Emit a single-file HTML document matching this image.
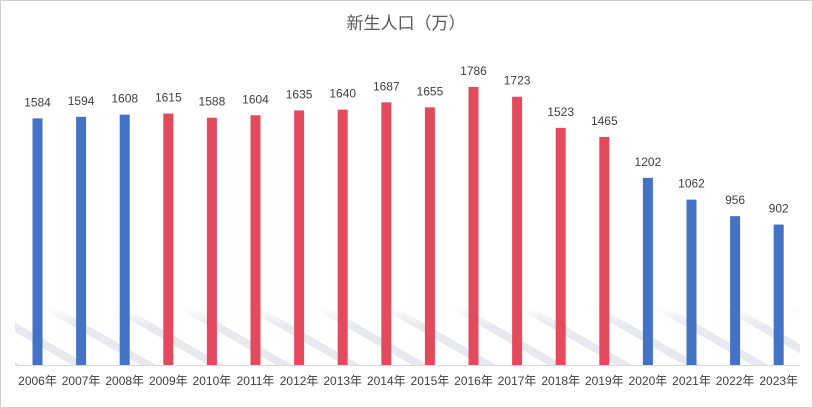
<!DOCTYPE html>
<html><head><meta charset="utf-8"><style>
html,body{margin:0;padding:0;background:#fff;}
svg{display:block;font-family:"Liberation Sans","Noto Sans CJK SC",sans-serif;}
</style></head><body>
<svg width="813" height="408" viewBox="0 0 813 408" xmlns="http://www.w3.org/2000/svg">
<defs>
<pattern id="h" width="34" height="34" patternUnits="userSpaceOnUse" patternTransform="rotate(30)">
<rect x="0" y="0" width="34" height="8" fill="#e8e9ef"/>
</pattern>
<linearGradient id="fade" x1="0" y1="0" x2="0" y2="1">
<stop offset="0" stop-color="#fff" stop-opacity="1"/>
<stop offset="0.35" stop-color="#fff" stop-opacity="0"/>
</linearGradient>
</defs>
<rect x="0.5" y="0.5" width="812" height="407" fill="#fff" stroke="#d0d0d0"/>
<rect x="15" y="308" width="785" height="57" fill="url(#h)"/>
<rect x="15" y="306" width="785" height="59" fill="url(#fade)"/>
<line x1="15" y1="365.5" x2="800" y2="365.5" stroke="#d9d9d9"/>
<text x="406" y="29" font-size="17" text-anchor="middle" fill="#595959">新生人口（万）</text>
<g id="bars" font-size="12" fill="#404040" text-anchor="middle"></g>
</svg>
<script>
var d=[1584,1594,1608,1615,1588,1604,1635,1640,1687,1655,1786,1723,1523,1465,1202,1062,956,902];
var g=document.getElementById('bars'),s='';
for(var i=0;i<18;i++){var cx=37.5+i*43.6,h=d[i]*0.1557,y=365-h;
var c=(i>=3&&i<=13)?'#e34a5e':'#4472c4';
s+='<rect x="'+(cx-5)+'" y="'+y+'" width="10" height="'+h+'" fill="'+c+'"/>';
s+='<text x="'+cx+'" y="'+(y-12)+'">'+d[i]+'</text>';
s+='<text x="'+cx+'" y="385">'+(2006+i)+'年</text>';}
g.innerHTML=s;
</script>
</body></html>
